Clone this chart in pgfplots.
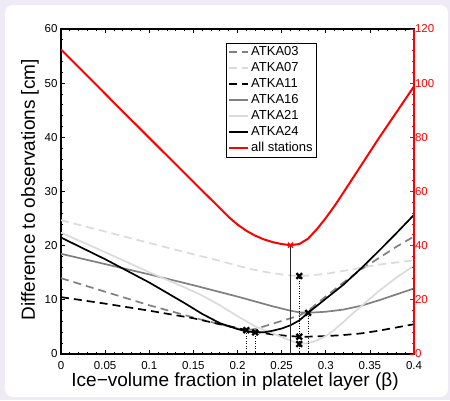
\documentclass[border=0pt]{standalone}
\usepackage{fontspec}
\setmainfont{Liberation Sans}
\usepackage{pgfplots}
\pgfplotsset{compat=1.18}
\definecolor{bgl}{RGB}{238,234,246}
\definecolor{lg}{gray}{0.86}
\definecolor{mg}{gray}{0.5}
\pgfplotsset{myax/.style={at={(61pt,46pt)}, anchor=south west, scale only axis,
  width=353pt, height=325pt, xmin=0, xmax=0.4, tick align=inside,
  major tick length=4pt, minor tick length=2pt,
  ticklabel style={font=\fontsize{11.5}{13}\selectfont},
  /pgf/number format/assume math mode=true}}
\tikzset{dsh/.style={dash pattern=on 8pt off 5pt}}
\begin{document}
\begin{tikzpicture}
\fill[bgl] (0,0) rectangle (450pt,400pt);
\fill[white, rounded corners=8pt] (5pt,3pt) rectangle (448pt,395pt);
\begin{axis}[myax,
  ymin=0, ymax=60,
  xtick={0,0.05,0.1,0.15,0.2,0.25,0.3,0.35,0.4},
  xticklabels={0,0.05,0.1,0.15,0.2,0.25,0.3,0.35,0.4},
  ytick={0,10,20,30,40,50,60}, ytick pos=left,
  minor x tick num=4, minor y tick num=4,
  axis line style={line width=1.3pt}, tick style={line width=0.7pt, black},
  xticklabel style={yshift=-4pt},
  xlabel={Ice−volume fraction in platelet layer (β)},
  ylabel={Difference to observations [cm]},
  every axis x label/.style={at={(axis description cs:0.493,-0.1006)}, anchor=base, font=\fontsize{19}{22}\selectfont},
  every axis y label/.style={at={(axis description cs:-0.0737,0.505)}, rotate=90, anchor=base, font=\fontsize{19}{22}\selectfont},
  legend style={at={(axis description cs:0.467,0.958)}, anchor=north west, draw=black, line width=0.8pt, fill=white,
    font=\fontsize{13}{15}\selectfont, cells={anchor=west}, inner xsep=2pt, inner ysep=1pt,
    nodes={inner sep=2pt, text height=9.5pt, text depth=2.5pt}},
  legend image code/.code={\draw[#1] (0pt,0pt) -- (19pt,0pt);},
]
\addplot[mg, line width=1.7pt, dsh] coordinates {(0,14.0) (0.02,13.0) (0.04,12.0) (0.06,11.0) (0.08,10.0) (0.1,9.0) (0.12,8.1) (0.14,7.2) (0.16,6.3) (0.18,5.5) (0.2,4.7) (0.21,4.4) (0.22,4.6) (0.24,5.6) (0.26,6.6) (0.27,7.1) (0.28,8.0) (0.29,9.3) (0.3,10.6) (0.32,13.2) (0.34,15.6) (0.36,17.7) (0.38,19.8) (0.4,21.7)};
\addlegendentry{ATKA03}
\addplot[lg, line width=1.7pt, dsh] coordinates {(0,24.7) (0.05,22.6) (0.1,20.5) (0.15,18.4) (0.18,17.2) (0.2,16.3) (0.22,15.5) (0.24,14.9) (0.26,14.5) (0.27,14.4) (0.28,14.5) (0.3,14.8) (0.33,15.6) (0.36,16.5) (0.4,17.3)};
\addlegendentry{ATKA07}
\addplot[black, line width=1.7pt, dsh] coordinates {(0,10.5) (0.05,9.3) (0.1,8.0) (0.15,6.6) (0.18,5.5) (0.2,4.8) (0.21,4.4) (0.22,4.1) (0.24,3.6) (0.26,3.3) (0.27,3.2) (0.28,3.2) (0.3,3.3) (0.32,3.5) (0.34,3.8) (0.36,4.3) (0.38,4.9) (0.4,5.5)};
\addlegendentry{ATKA11}
\addplot[mg, line width=1.7pt] coordinates {(0,18.5) (0.05,16.6) (0.1,14.7) (0.15,12.7) (0.2,10.6) (0.24,8.8) (0.26,8.0) (0.27,7.7) (0.28,7.6) (0.3,7.8) (0.32,8.2) (0.34,8.9) (0.36,9.9) (0.38,11.0) (0.4,12.1)};
\addlegendentry{ATKA16}
\addplot[lg, line width=1.7pt] coordinates {(0,22.4) (0.05,18.8) (0.1,15.1) (0.14,12.3) (0.16,10.8) (0.18,9.0) (0.2,7.0) (0.22,5.1) (0.24,3.8) (0.26,2.5) (0.27,1.85) (0.28,2.0) (0.29,2.5) (0.3,3.3) (0.31,4.5) (0.32,5.9) (0.33,7.4) (0.34,8.8) (0.35,10.2) (0.36,11.6) (0.38,14.1) (0.4,16.3)};
\addlegendentry{ATKA21}
\addplot[black, line width=1.7pt] coordinates {(0,21.5) (0.05,17.5) (0.1,13.2) (0.14,9.4) (0.16,7.4) (0.18,5.7) (0.2,4.6) (0.21,4.2) (0.22,4.0) (0.23,4.0) (0.24,4.3) (0.25,4.7) (0.26,5.3) (0.27,6.2) (0.28,7.6) (0.29,8.9) (0.3,10.2) (0.32,12.8) (0.34,15.8) (0.36,19.0) (0.38,22.3) (0.4,25.7)};
\addlegendentry{ATKA24}
\addlegendimage{red, line width=2pt}
\addlegendentry{all stations}
% minima
\addplot[black!85, line width=1.8pt, forget plot] coordinates {(0.26,0) (0.26,20.1)};
\addplot[black, line width=0.8pt, dash pattern=on 1pt off 1.5pt, forget plot] coordinates {(0.21,0) (0.21,4.4)};
\addplot[black, line width=0.8pt, dash pattern=on 1pt off 1.5pt, forget plot] coordinates {(0.22,0) (0.22,4.0)};
\addplot[black, line width=0.8pt, dash pattern=on 1pt off 1.5pt, forget plot] coordinates {(0.27,0) (0.27,14.4)};
\addplot[black, line width=0.8pt, dash pattern=on 1pt off 1.5pt, forget plot] coordinates {(0.28,0) (0.28,7.6)};
\addplot[black, only marks, mark=x, mark size=4pt, mark options={line width=2.3pt}, forget plot] coordinates {(0.21,4.4) (0.22,4.0) (0.27,14.4) (0.27,3.2) (0.27,1.85) (0.28,7.6)};
\end{axis}
\begin{axis}[myax,
  ymin=0, ymax=120, axis x line=none, axis y line*=right,
  ytick={0,20,40,60,80,100,120}, minor y tick num=4,
  y axis line style={red, line width=1.3pt}, ytick style={red, line width=0.7pt},
  yticklabel style={red, xshift=-2.5pt},
]
\addplot[red, line width=2pt] coordinates {(0,112.4) (0.02,105.9) (0.04,99.4) (0.06,92.8) (0.08,86.3) (0.1,79.8) (0.12,73.3) (0.14,66.8) (0.16,60.3) (0.18,53.9) (0.19,50.6) (0.2,47.8) (0.21,45.5) (0.22,43.7) (0.23,42.3) (0.24,41.3) (0.25,40.6) (0.26,40.2) (0.27,40.6) (0.28,42.6) (0.29,46.1) (0.3,50.2) (0.31,54.7) (0.32,59.6) (0.33,64.6) (0.34,69.6) (0.35,74.6) (0.36,79.6) (0.37,84.4) (0.38,89.2) (0.39,94.0) (0.4,98.8)};
\addplot[red, only marks, mark=x, mark size=3.5pt, mark options={line width=1.2pt}] coordinates {(0.26,40.2)};
\end{axis}
\end{tikzpicture}
\end{document}
